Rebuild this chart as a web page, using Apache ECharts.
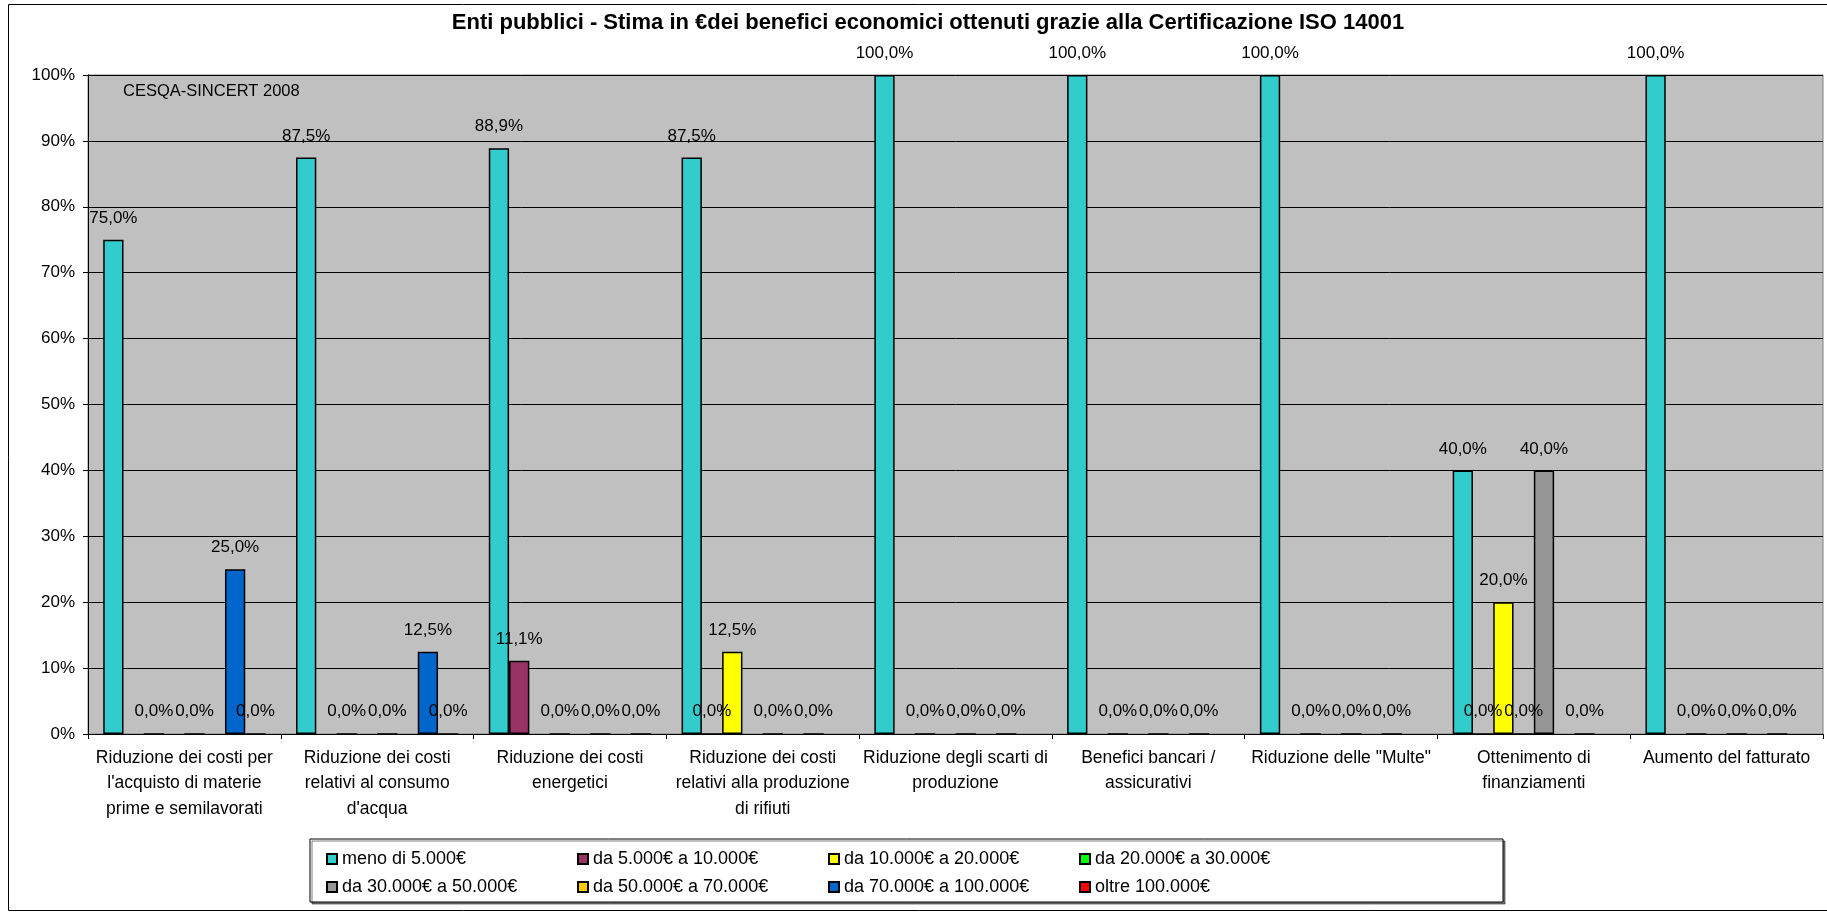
<!DOCTYPE html>
<html>
<head>
<meta charset="utf-8">
<script src="https://cdn.jsdelivr.net/npm/echarts@6/dist/echarts.min.js"></script>
<style>
html,body{margin:0;padding:0;background:#fff;}
#chart{width:1827px;height:912px;}
</style>
</head>
<body>
<div id="chart"></div>
<script>
const titleText = 'Enti pubblici - Stima in €dei benefici economici ottenuti grazie alla Certificazione ISO 14001';
const categories = [
  "Riduzione dei costi per\nl'acquisto di materie\nprime e semilavorati",
  "Riduzione dei costi\nrelativi al consumo\nd'acqua",
  "Riduzione dei costi\nenergetici",
  "Riduzione dei costi\nrelativi alla produzione\ndi rifiuti",
  "Riduzione degli scarti di\nproduzione",
  "Benefici bancari /\nassicurativi",
  "Riduzione delle \"Multe\"",
  "Ottenimento di\nfinanziamenti",
  "Aumento del fatturato"
];
const seriesNames = [
  'meno di 5.000€',
  'da 5.000€ a 10.000€',
  'da 10.000€ a 20.000€',
  'da 20.000€ a 30.000€',
  'da 30.000€ a 50.000€',
  'da 50.000€ a 70.000€',
  'da 70.000€ a 100.000€',
  'oltre 100.000€'
];
const seriesColors = ['#33CCCC', '#993366', '#FFFF00', '#00FF00', '#969696', '#FFCC00', '#0066CC', '#FF0000'];
// values in %, null = no data (no bar, no label)
const s1 = [75.0, 87.5, 88.9, 87.5, 100.0, 100.0, 100.0, 40.0, 100.0];
const s2 = [null, null, 11.1, 0.0, null, null, null, 0.0, null];
const s3 = [0.0, 0.0, null, 12.5, 0.0, 0.0, 0.0, 20.0, 0.0];
const s4 = [null, null, 0.0, null, null, null, null, 0.0, null];
const s5 = [0.0, 0.0, null, 0.0, 0.0, 0.0, 0.0, 40.0, 0.0];
const s6 = [null, null, 0.0, null, null, null, null, null, null];
const s7 = [25.0, 12.5, null, 0.0, 0.0, 0.0, 0.0, 0.0, 0.0];
const s8 = [0.0, 0.0, 0.0, null, null, null, null, null, null];
const seriesData = [s1, s2, s3, s4, s5, s6, s7, s8];
const yTicks = [0, 10, 20, 30, 40, 50, 60, 70, 80, 90, 100];
const noteText = 'CESQA-SINCERT 2008';

const FONT = '"Liberation Sans", Arial, sans-serif';
const chart = echarts.init(document.getElementById('chart'), null, {renderer: 'canvas'});

const series = seriesData.map((d, i) => ({
  name: seriesNames[i],
  type: 'bar',
  data: d.map(v => v === null ? '-' : v),
  barGap: '0%',
  barCategoryGap: '15.8%',
  itemStyle: {color: seriesColors[i], borderColor: '#000', borderWidth: 1.5},
  emphasis: {disabled: true},
  label: {
    show: true,
    position: 'top',
    distance: 13,
    color: '#000',
    fontFamily: FONT,
    fontSize: 17,
    formatter: p => (typeof p.value === 'number') ? p.value.toFixed(1).replace('.', ',') + '%' : ''
  }
}));

chart.setOption({
  animation: false,
  backgroundColor: '#fff',
  textStyle: {fontFamily: FONT},
  title: {
    text: titleText,
    left: 928,
    textAlign: 'center',
    top: 12,
    padding: 0,
    textStyle: {fontFamily: FONT, fontSize: 22, fontWeight: 'bold', color: '#000'}
  },
  graphic: [
    {type: 'rect', z: -10, shape: {x: 8.5, y: 4.5, width: 1830, height: 906}, style: {fill: 'none', stroke: '#000', lineWidth: 1}},
    {type: 'text', left: 123, top: 83, z: 10, style: {text: noteText, fill: '#000', font: '16.5px ' + FONT}}
  ],
  legend: {
    left: 310,
    top: 839,
    orient: 'horizontal',
    width: 1010,
    padding: [11, 183, 6, 16],
    itemGap: 10,
    itemWidth: 10,
    itemHeight: 10,
    icon: 'rect',
    borderColor: '#000',
    borderWidth: 1,
    backgroundColor: '#fff',
    shadowColor: 'rgba(0,0,0,0.5)',
    shadowOffsetX: 2,
    shadowOffsetY: 2,
    shadowBlur: 0,
    selectedMode: false,
    formatter: '{a|{name}}',
    textStyle: {
      color: '#000', fontFamily: FONT, fontSize: 18,
      rich: {a: {width: 225, fontSize: 18, lineHeight: 19, fontFamily: FONT, color: '#000'}}
    },
    data: seriesNames
  },
  grid: {
    left: 88, right: 4, top: 75, bottom: 178,
    show: true, backgroundColor: '#C0C0C0', borderColor: '#808080', borderWidth: 1
  },
  xAxis: {
    type: 'category',
    data: categories,
    axisLine: {show: true, lineStyle: {color: '#000', width: 1}},
    axisTick: {show: true, length: 5, alignWithLabel: false, lineStyle: {color: '#000'}},
    axisLabel: {interval: 0, color: '#000', fontFamily: FONT, fontSize: 17.5, lineHeight: 25.5, margin: 11}
  },
  yAxis: {
    type: 'value',
    min: 0, max: 100, interval: 10,
    axisLine: {show: true, lineStyle: {color: '#000', width: 1}},
    axisTick: {show: true, length: 5, lineStyle: {color: '#000'}},
    axisLabel: {color: '#000', fontFamily: FONT, fontSize: 17, margin: 13, formatter: v => yTicks.includes(v) ? v + '%' : ''},
    splitLine: {show: true, lineStyle: {color: '#000', width: 1}}
  },
  series: series
});
</script>
</body>
</html>
